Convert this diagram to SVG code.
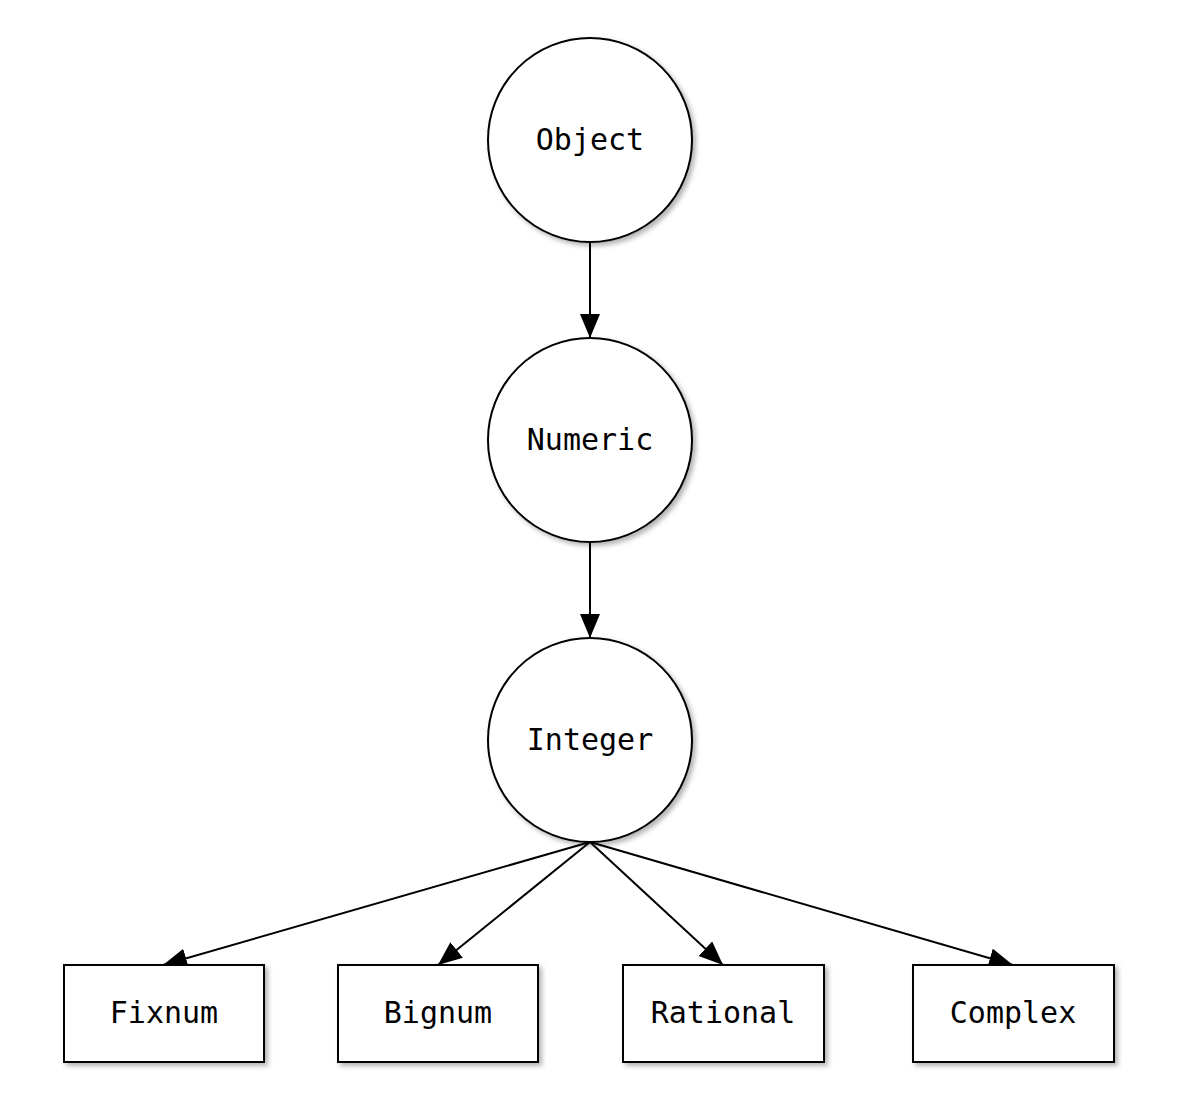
<svg xmlns="http://www.w3.org/2000/svg" width="1178" height="1102" viewBox="0 0 1178 1102">
<style>
.n{fill:#fff;stroke:#000;stroke-width:2;filter:url(#sh)}
.t{font-family:"DejaVu Sans Mono","Liberation Mono",monospace;font-size:30px;text-anchor:middle;fill:#000}
.e{stroke:#000;stroke-width:2;fill:none;marker-end:url(#ah)}
</style>
<defs>
<filter id="sh" x="-20%" y="-20%" width="140%" height="140%">
<feDropShadow dx="3" dy="3" stdDeviation="2.5" flood-color="#000" flood-opacity="0.3"/>
</filter>
<marker id="ah" markerUnits="userSpaceOnUse" markerWidth="26" markerHeight="22" refX="24" refY="10" orient="auto">
<path d="M0,0 L24,10 L0,20 Z" fill="#000"/>
</marker>
</defs>
<rect width="1178" height="1102" fill="#fff"/>
<g id="edges">
<line class="e" x1="590" y1="242" x2="590" y2="338"/>
<line class="e" x1="590" y1="542" x2="590" y2="638"/>
<line class="e" x1="590" y1="842" x2="163" y2="965"/>
<line class="e" x1="590" y1="842" x2="438" y2="965"/>
<line class="e" x1="590" y1="842" x2="723" y2="965"/>
<line class="e" x1="590" y1="842" x2="1013" y2="965"/>
</g>
<g id="object"><circle class="n" cx="590" cy="140" r="102"/><text class="t" x="590" y="150">Object</text></g>
<g id="numeric"><circle class="n" cx="590" cy="440" r="102"/><text class="t" x="590" y="450">Numeric</text></g>
<g id="integer"><circle class="n" cx="590" cy="740" r="102"/><text class="t" x="590" y="750">Integer</text></g>
<g id="fixnum"><rect class="n" x="64" y="965" width="200" height="97"/><text class="t" x="164" y="1023">Fixnum</text></g>
<g id="bignum"><rect class="n" x="338" y="965" width="200" height="97"/><text class="t" x="438" y="1023">Bignum</text></g>
<g id="rational"><rect class="n" x="623" y="965" width="201" height="97"/><text class="t" x="723" y="1023">Rational</text></g>
<g id="complex"><rect class="n" x="913" y="965" width="201" height="97"/><text class="t" x="1013" y="1023">Complex</text></g>
</svg>
